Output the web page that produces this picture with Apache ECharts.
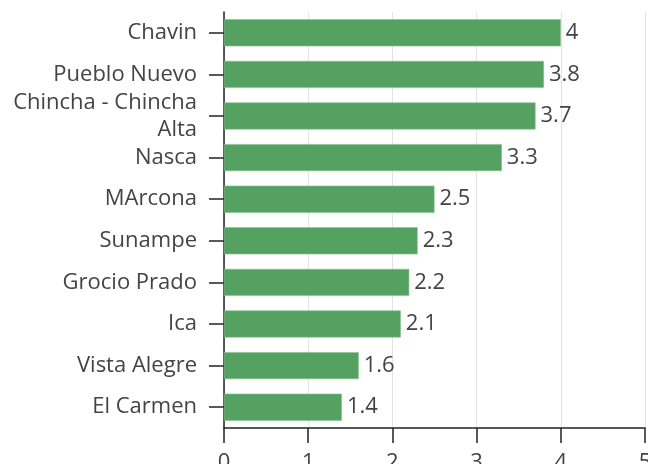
<!DOCTYPE html>
<html>
<head>
<meta charset="utf-8">
<script src="https://cdn.jsdelivr.net/npm/echarts@6/dist/echarts.min.js"></script>
<style>html,body{margin:0;padding:0;background:#fff;}#c{width:648px;height:464px;}</style>
</head>
<body>
<div id="c"></div>
<script>
const categories = ["Chavin", "Pueblo Nuevo", "Chincha - Chincha Alta", "Nasca", "MArcona", "Sunampe", "Grocio Prado", "Ica", "Vista Alegre", "El Carmen"];
const values = [4, 3.8, 3.7, 3.3, 2.5, 2.3, 2.2, 2.1, 1.6, 1.4];
const xTicks = [0, 1, 2, 3, 4, 5];

function wrapLabel(v) {
  if (v.length <= 18) return v;
  const i = v.lastIndexOf(' ');
  return v.slice(0, i) + '\n' + v.slice(i + 1);
}

const chart = echarts.init(document.getElementById('c'), null, {renderer: 'canvas'});
const font = '"Open Sans", "Noto Sans", sans-serif';
chart.setOption({
  animation: false,
  grid: {left: 224, right: 3, top: 12, bottom: 36, containLabel: false, outerBoundsMode: 'none'},
  xAxis: {
    type: 'value', min: xTicks[0], max: xTicks[xTicks.length - 1], interval: 1,
    axisLine: {show: true, lineStyle: {color: '#222', width: 1.5}},
    axisTick: {show: true, length: 15, lineStyle: {color: '#222', width: 1.5}},
    axisLabel: {margin: 24, fontSize: 22, color: '#444', fontFamily: font},
    splitLine: {show: true, lineStyle: {color: '#e3e3e3', width: 1}}
  },
  yAxis: {
    type: 'category', data: categories, inverse: true,
    axisLine: {show: true, lineStyle: {color: '#222', width: 1.5}},
    axisTick: {show: true, length: 15, alignWithLabel: true, lineStyle: {color: '#222', width: 1.5}},
    axisLabel: {margin: 27, fontSize: 22, color: '#444', fontFamily: font, lineHeight: 27,
      align: 'right', formatter: wrapLabel},
    splitLine: {show: false}
  },
  series: [{
    type: 'bar', data: values, barCategoryGap: '35%',
    itemStyle: {color: '#55a162', borderColor: '#86bf92', borderWidth: 0.6},
    label: {show: true, position: 'right', distance: 5, fontSize: 22, color: '#444', fontFamily: font}
  }]
});
</script>
</body>
</html>
